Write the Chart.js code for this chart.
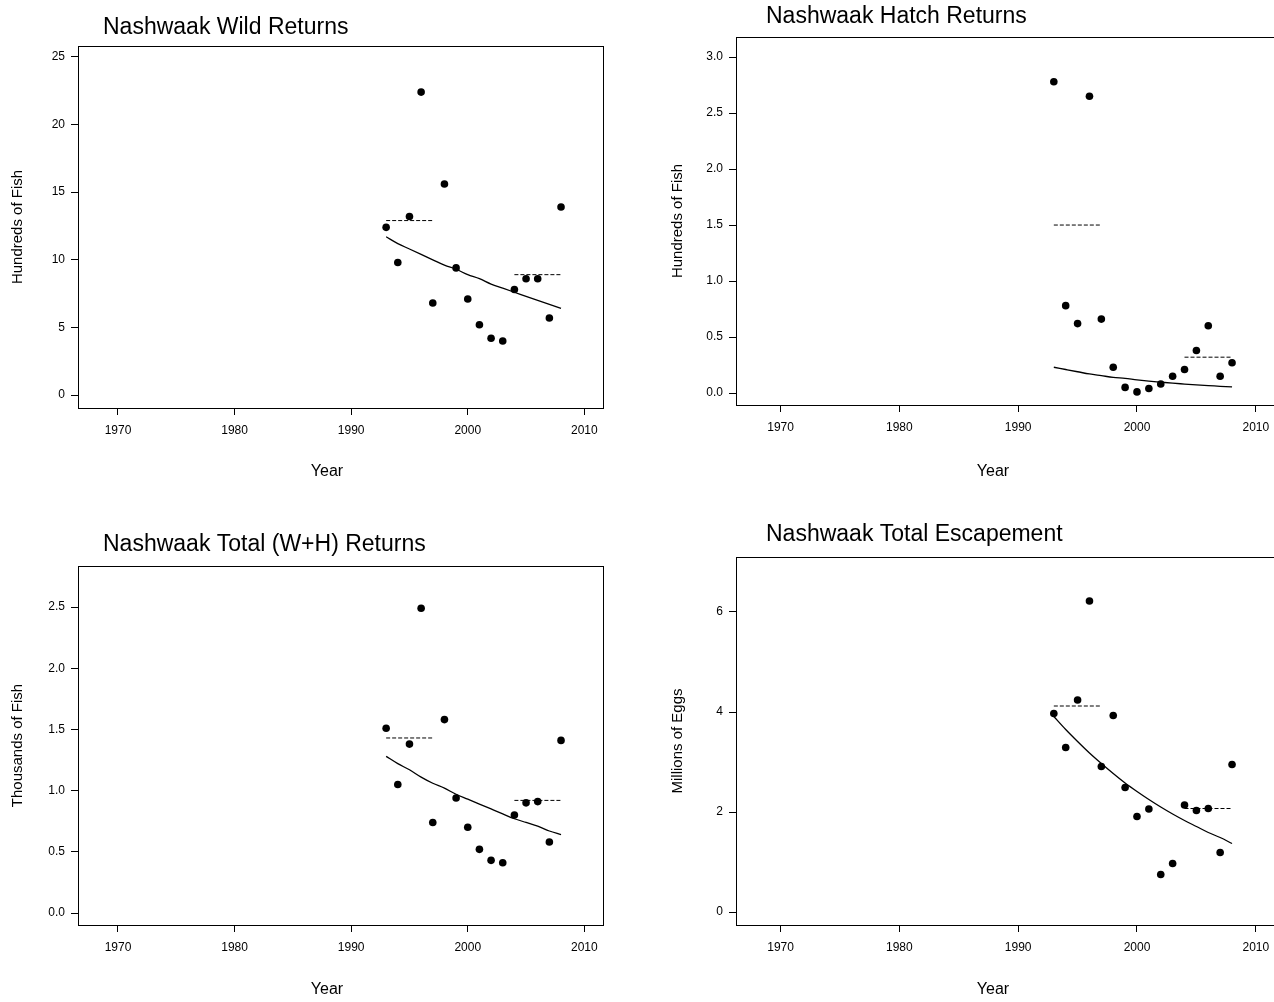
<!DOCTYPE html>
<html>
<head>
<meta charset="utf-8">
<title>Nashwaak returns</title>
<script src="https://cdn.jsdelivr.net/npm/chart.js@4.4.1/dist/chart.umd.min.js"></script>
<style>
  html, body { margin: 0; padding: 0; background: #fff; overflow: hidden; }
  #page { position: relative; width: 1274px; height: 1002px; overflow: hidden; }
  canvas { position: absolute; }
</style>
</head>
<body>
<div id="page">
  <canvas id="wild" width="637" height="501" style="left:0px;top:0px"></canvas>
  <canvas id="hatch" width="650" height="501" style="left:637px;top:0px"></canvas>
  <canvas id="total" width="637" height="501" style="left:0px;top:501px"></canvas>
  <canvas id="escape" width="650" height="501" style="left:637px;top:501px"></canvas>
</div>
<script>
// ---- data ----
const years = [1993, 1994, 1995, 1996, 1997, 1998, 1999, 2000, 2001, 2002, 2003, 2004, 2005, 2006, 2007, 2008];
const earlySpan = [1993, 1997];
const lateSpan = [2004, 2008];
const yearTicks = [1970, 1980, 1990, 2000, 2010];

// wild returns, hundreds of fish
const wildReturns = [12.4, 9.8, 13.2, 22.4, 6.8, 15.6, 9.4, 7.1, 5.2, 4.2, 4.0, 7.8, 8.6, 8.6, 5.7, 13.9];
const wildTrend = [11.7, 11.2, 10.8, 10.4, 10.0, 9.6, 9.3, 8.9, 8.6, 8.2, 7.9, 7.6, 7.3, 7.0, 6.7, 6.4];
const wildMeans = [12.9, 8.9];
const wildTicks = [0, 5, 10, 15, 20, 25];

// hatchery returns, hundreds of fish
const hatchReturns = [2.78, 0.78, 0.62, 2.65, 0.66, 0.23, 0.05, 0.01, 0.04, 0.08, 0.15, 0.21, 0.38, 0.60, 0.15, 0.27];
const hatchTrend = [0.23, 0.21, 0.19, 0.17, 0.155, 0.14, 0.13, 0.117, 0.106, 0.097, 0.088, 0.08, 0.072, 0.066, 0.06, 0.054];
const hatchMeans = [1.50, 0.32];
const hatchTicks = [0, 0.5, 1, 1.5, 2, 2.5, 3];

// total (W+H) returns, thousands of fish
const totalReturns = [1.51, 1.05, 1.38, 2.49, 0.74, 1.58, 0.94, 0.70, 0.52, 0.43, 0.41, 0.80, 0.90, 0.91, 0.58, 1.41];
const totalTrend = [1.28, 1.22, 1.17, 1.11, 1.06, 1.02, 0.97, 0.93, 0.89, 0.85, 0.81, 0.77, 0.74, 0.71, 0.67, 0.64];
const totalMeans = [1.43, 0.92];
const totalTicks = [0, 0.5, 1, 1.5, 2, 2.5];

// total escapement, millions of eggs
const escapement = [3.97, 3.29, 4.24, 6.22, 2.91, 3.93, 2.49, 1.91, 2.06, 0.75, 0.97, 2.14, 2.03, 2.07, 1.19, 2.95];
const escapeTrend = [3.91, 3.65, 3.41, 3.18, 2.97, 2.77, 2.58, 2.41, 2.25, 2.10, 1.96, 1.83, 1.71, 1.59, 1.49, 1.37];
const escapeMeans = [4.12, 2.07];
const escapeTicks = [0, 2, 4, 6];

// ---- drawing ----
const FONT = '"Liberation Sans", Arial, Helvetica, sans-serif';
Chart.defaults.font.family = FONT;
Chart.defaults.color = '#000';

// box round the plot area, main title and x label (R style)
const framePlugin = {
  id: 'frame',
  afterDraw(chart, args, opts) {
    const ctx = chart.ctx, a = chart.chartArea;
    ctx.save();
    ctx.strokeStyle = '#000';
    ctx.lineWidth = 1;
    ctx.strokeRect(Math.round(a.left) + 0.5, Math.round(a.top) + 0.5,
      Math.round(a.right - a.left), Math.round(a.bottom - a.top));
    ctx.fillStyle = '#000';
    ctx.textBaseline = 'middle';
    ctx.textAlign = 'left';
    ctx.font = '23px ' + FONT;
    ctx.fillText(opts.title, opts.titleX, opts.titleY);
    ctx.textAlign = 'center';
    ctx.font = '16px ' + FONT;
    ctx.fillText('Year', opts.xlabX, opts.xlabY);
    ctx.restore();
  }
};

function makePanel(id, p) {
  const pts = (vals) => years.map((yr, i) => ({ x: yr, y: vals[i] }));
  const span = (s, v) => s.map(yr => ({ x: yr, y: v }));

  return new Chart(document.getElementById(id), {
    type: 'scatter',
    data: {
      datasets: [
        { data: pts(p.values), pointRadius: 3.8, pointBackgroundColor: '#000', pointBorderWidth: 0, showLine: false },
        { data: pts(p.trend), showLine: true, borderColor: '#000', borderWidth: 1.3, pointRadius: 0, cubicInterpolationMode: 'monotone' },
        { data: span(earlySpan, p.means[0]), showLine: true, borderColor: '#000', borderWidth: 1, borderDash: [4, 2], pointRadius: 0 },
        { data: span(lateSpan, p.means[1]), showLine: true, borderColor: '#000', borderWidth: 1, borderDash: [4, 2], pointRadius: 0 }
      ]
    },
    plugins: [framePlugin],
    options: {
      responsive: false,
      animation: false,
      devicePixelRatio: 1,
      layout: { padding: { left: 0, top: p.top, right: p.right, bottom: 0 } },
      scales: {
        x: {
          type: 'linear',
          min: p.xmin, max: p.xmax,
          border: { display: false },
          grid: { drawOnChartArea: false, drawTicks: true, tickLength: 7, tickColor: '#000' },
          ticks: { font: { size: 12 }, padding: 8, maxRotation: 0, callback: v => String(v) },
          afterBuildTicks: s => { s.ticks = yearTicks.map(v => ({ value: v })); },
          afterFit: s => { s.height = p.xh; }
        },
        y: {
          min: p.ymin, max: p.ymax,
          border: { display: false },
          grid: { drawOnChartArea: false, drawTicks: true, tickLength: 7, tickColor: '#000' },
          ticks: { font: { size: 12 }, padding: 6, callback: v => v.toFixed(p.digits) },
          afterBuildTicks: s => { s.ticks = p.ticks.map(v => ({ value: v })); },
          afterFit: s => { s.width = p.yw; },
          title: { display: true, text: p.ylab, font: { size: 15, lineHeight: 1.2 }, padding: { top: p.ytitlePad, bottom: 0 } }
        }
      },
      plugins: {
        legend: { display: false },
        tooltip: { enabled: false },
        frame: { title: p.title, titleX: p.titleX, titleY: p.titleY, xlabX: p.xlabX, xlabY: p.xlabY }
      }
    }
  });
}

makePanel('wild', {
  values: wildReturns, trend: wildTrend, means: wildMeans, ticks: wildTicks, digits: 0,
  title: 'Nashwaak Wild Returns', ylab: 'Hundreds of Fish',
  xmin: 1966.57, xmax: 2011.6, ymin: -0.96, ymax: 25.81,
  top: 46, right: 34, xh: 93, yw: 78, ytitlePad: 9,
  titleX: 103, titleY: 28, xlabX: 327, xlabY: 472
});

makePanel('hatch', {
  values: hatchReturns, trend: hatchTrend, means: hatchMeans, ticks: hatchTicks, digits: 1,
  title: 'Nashwaak Hatch Returns', ylab: 'Hundreds of Fish',
  xmin: 1966.25, xmax: 2011.7, ymin: -0.107, ymax: 3.179,
  top: 37, right: 11, xh: 96, yw: 99, ytitlePad: 32,
  titleX: 129, titleY: 17, xlabX: 356, xlabY: 472
});

makePanel('total', {
  values: totalReturns, trend: totalTrend, means: totalMeans, ticks: totalTicks, digits: 1,
  title: 'Nashwaak Total (W+H) Returns', ylab: 'Thousands of Fish',
  xmin: 1966.57, xmax: 2011.6, ymin: -0.098, ymax: 2.835,
  top: 65, right: 34, xh: 77, yw: 78, ytitlePad: 9,
  titleX: 103, titleY: 44, xlabX: 327, xlabY: 489
});

makePanel('escape', {
  values: escapement, trend: escapeTrend, means: escapeMeans, ticks: escapeTicks, digits: 0,
  title: 'Nashwaak Total Escapement', ylab: 'Millions of Eggs',
  xmin: 1966.25, xmax: 2011.7, ymin: -0.26, ymax: 7.1,
  top: 56, right: 11, xh: 77, yw: 99, ytitlePad: 32,
  titleX: 129, titleY: 34, xlabX: 356, xlabY: 489
});
</script>
</body>
</html>
